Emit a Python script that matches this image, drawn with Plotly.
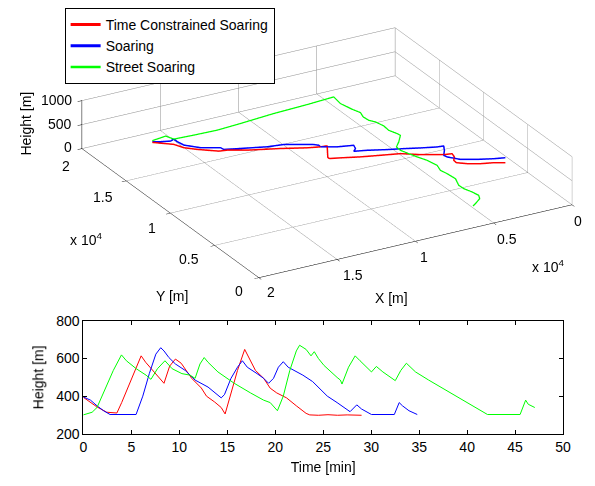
import plotly.graph_objects as go

# ---------------- 2D height vs time ----------------
t_red = [0, 0.5, 1.4, 2.45, 3.0, 3.5, 4.0, 5.0, 6.03, 6.5, 7.5, 8.41, 9.0, 9.6, 10.2,
         11.3, 12.3, 12.84, 13.69, 14.37, 14.78, 15.4, 16.07, 16.82, 17.43, 17.94,
         18.8, 19.48, 20.16, 21.18, 22.2, 23.22, 23.6, 24.5, 25.5, 26.5, 27.5, 29.0]
h_red = [395, 378, 345, 316, 312, 312, 367, 490, 614, 580, 520, 469, 560, 597, 575,
         495, 444, 401, 370, 341, 307, 418, 537, 648, 588, 537,
         495, 443, 418, 392, 350, 310, 302, 300, 303, 300, 302, 300]

t_blue = [0, 0.75, 1.43, 2.11, 2.79, 5.5, 6.2, 6.88, 7.56, 8.07, 8.41, 8.92, 9.6, 10.62,
          11.65, 13.0, 14.37, 14.71, 15.39, 16.07, 16.58, 17.09, 18.11, 18.8, 19.31,
          19.82, 20.33, 20.84, 21.35, 22.88, 23.9, 24.92, 25.43, 26.45, 27.8, 28.5,
          29.0, 30.03, 32.41, 32.92, 33.26, 33.94, 34.8]
h_blue = [397, 380, 350, 324, 304, 304, 401, 520, 623, 657, 640, 605, 571, 537,
          486, 449, 392, 409, 495, 554, 588, 554, 520, 495, 469,
          495, 554, 583, 554, 512, 478, 426, 401, 367, 319, 355,
          333, 304, 304, 367, 350, 324, 304]

t_green = [0, 0.92, 1.43, 2.28, 3.13, 3.98, 4.49, 5.52, 6.54, 7.05, 7.73, 8.51, 9.26,
           10.28, 11.13, 11.65, 12.16, 12.6, 13.0, 14.03, 15.73, 17.43, 18.79, 19.48,
           20.23, 20.84, 21.52, 22.2, 22.54, 23.22, 23.73, 24.07, 24.5, 25.09, 25.77,
           26.45, 26.79, 26.96, 27.64, 28.33, 28.84, 30.03, 30.54, 31.22, 32.51, 33.09,
           33.67, 34.62, 35.99, 38.03, 40.07, 42.12, 45.52, 46.1, 46.37, 47.05]
h_green = [302, 316, 341, 435, 537, 619, 588, 546, 512, 490, 546, 588, 546,
           520, 512, 495, 571, 605, 580, 529, 469, 418, 380, 367,
           324, 401, 537, 640, 670, 648, 614, 636, 600, 563, 529,
           500, 486, 465, 554, 614, 588, 529, 558, 529, 483, 537,
           575, 529, 486, 426, 367, 304, 304, 380, 358, 341]

# ---------------- 3D ground tracks ----------------
x3_red = [17453, 16542, 16278, 15743, 14812, 14340, 13374, 11653, 10316, 9608, 9218,
          9964, 9948, 9370, 8338, 7266, 6187, 5287, 4161, 3689, 3797, 4056, 4078,
          3628, 2985, 2277, 1711]
y3_red = [16552, 15725, 15063, 14496, 13703, 13590, 13041, 12326, 11675, 11428, 11361,
          9972, 9807, 9588, 9156, 8795, 8445, 7779, 7140, 7026, 6576, 6196, 5852,
          5441, 5076, 4828, 4507]
z3_red = [400, 400, 400, 400, 400, 400, 400, 400, 400, 400, 400,
          400, 400, 400, 400, 400, 400, 400, 400, 400, 400, 400, 400,
          400, 400, 400, 400]

x3_blue = [17406, 17005, 16483, 16191, 16198, 16106, 15471, 14505, 14458, 13585, 12183,
           11228, 9778, 9584, 9608, 8801, 7893, 8030, 8290, 7577, 6564, 5696, 4843,
           3970, 3585, 3842, 4208, 4150, 3666, 2859, 2011, 1379]
y3_blue = [16635, 16407, 16203, 16347, 15949, 15369, 14604, 14055, 13766, 13424, 12891,
           12706, 11882, 11663, 11428, 10970, 10702, 10267, 9997, 9747, 9280, 8942, 8565,
           8225, 8161, 7625, 7058, 6776, 6129, 5671, 5297, 5094]
z3_blue = [400, 400, 400, 400, 400, 400, 400, 400, 400, 400, 400,
           400, 400, 400, 400, 400, 400, 400, 400, 400, 400, 400, 400,
           400, 400, 400, 400, 400, 400, 400, 400, 400]

x3_green = [17499, 16552, 16350, 15119, 13657, 12086, 9815, 7605, 5809, 5930, 5742,
            5560, 5715, 5670, 5453, 5317, 5367, 5179, 5133, 5652, 6095, 6127, 5945,
            5758, 5500, 5349, 5520, 5416, 5346, 5630, 5608, 5421, 5327, 5498, 6038, 6301]
y3_green = [16470, 16645, 16065, 15986, 15930, 16077, 16337, 16476, 16650, 15679, 14689,
            14074, 13495, 12942, 12570, 11874, 11219, 10602, 10312, 9584, 9060, 8551, 7936,
            7318, 6644, 5783, 5106, 4534, 3719, 2843, 2319, 1700, 1120, 705, 236, 30]
z3_green = [450, 450, 450, 450, 450, 450, 450, 450, 450, 450, 450,
            450, 450, 450, 450, 450, 450, 450, 450, 450, 450, 450, 450,
            450, 450, 450, 450, 450, 450, 450, 450, 450, 450, 450, 450, 450]

names = ["Time Constrained Soaring", "Soaring", "Street Soaring"]
colors = ["#ff0000", "#0000ff", "#00ff00"]

xy_ticks = [0, 5000, 10000, 15000, 20000]
xy_ticktext = ["0", "0.5", "1", "1.5", "2"]
z_ticks = [0, 500, 1000]
z_ticktext = ["0", "500", "1000"]

FONT = "Liberation Sans, Arial, sans-serif"
FS = 14
W, H = 595, 486

fig = go.Figure()

tracks = [(x3_red, y3_red, z3_red, 3), (x3_blue, y3_blue, z3_blue, 3), (x3_green, y3_green, z3_green, 2.5)]
for i, (xs, ys, zs, w) in enumerate(tracks):
    fig.add_trace(go.Scatter3d(x=xs, y=ys, z=zs, mode="lines", name=names[i],
                               line=dict(color=colors[i], width=w),
                               legendgroup=str(i), showlegend=True, hoverinfo="skip"))

series = [(t_red, h_red), (t_blue, h_blue), (t_green, h_green)]
for i, (ts, hs) in enumerate(series):
    fig.add_trace(go.Scatter(x=ts, y=hs, mode="lines", line=dict(color=colors[i], width=1),
                             showlegend=False, xaxis="x", yaxis="y", hoverinfo="skip"))

axis3 = dict(showgrid=True, gridcolor="#8c8c8c", gridwidth=1, showline=True, linecolor="black",
             linewidth=1, ticks="outside", ticklen=5, tickcolor="black", showbackground=False,
             zeroline=False, showspikes=False, title=dict(text=""), showticklabels=False)

# view direction (orthographic), x axis reversed as in the original figure
d = (-0.448, -0.793, 0.412)
ctr = (-0.190, 0.089, -0.035)
r = 1.5
k = 2.39

# ---- screen layout of the 3-D box (pixels) used to place its tick labels ----
A = (81.7, 150.0)      # x=2e4, y=2e4, z=0
B = (258.3, 279.3)     # x=2e4, y=0,   z=0
C = (571.7, 206.0)     # x=0,   y=0,   z=0
ZPX = 48.0             # pixels for the full z range


def paper(px, py):
    return px / W, 1 - py / H


ann = []
for v, s in zip(xy_ticks, xy_ticktext):
    f = v / 20000.0
    # y tick labels along A-B edge (y=2e4 at A)
    tx = B[0] + f * (A[0] - B[0])
    ty = B[1] + f * (A[1] - B[1])
    px, py = paper(tx - 12.7, ty + 13)
    ann.append(dict(text=s, x=px, y=py, xanchor="right", yanchor="middle"))
    # x tick labels along B-C edge (x=2e4 at B)
    tx = C[0] + f * (B[0] - C[0])
    ty = C[1] + f * (B[1] - C[1])
    px, py = paper(tx + 7.7, ty + 14.7)
    ann.append(dict(text=s, x=px, y=py, xanchor="left", yanchor="middle"))
for v, s in zip(z_ticks, z_ticktext):
    px, py = paper(A[0] - 10, A[1] - ZPX * v / 1000.0 - 6.5)
    ann.append(dict(text=s, x=px, y=py, xanchor="right", yanchor="middle"))

for txt, (px, py), ang in [("Height [m]", (22, 120), -90), ("Y [m]", (171, 298), 0),
                           ("X [m]", (395, 300), 0), ("x 10<sup>4</sup>", (84, 239), 0),
                           ("x 10<sup>4</sup>", (555, 267), 0)]:
    qx, qy = paper(px, py)
    ann.append(dict(text=txt, x=qx, y=qy, textangle=ang, xanchor="center", yanchor="middle"))

for a in ann:
    a.update(xref="paper", yref="paper", showarrow=False, font=dict(family=FONT, size=FS, color="black"))

fig.update_layout(
    width=W, height=H, margin=dict(l=0, r=0, t=0, b=0),
    paper_bgcolor="white", plot_bgcolor="white",
    font=dict(family=FONT, size=FS, color="black"),
    scene=dict(
        domain=dict(x=[0.0, 1.0], y=[0.36, 1.0]),
        xaxis=dict(axis3, range=[20000, 0], tickvals=xy_ticks),
        yaxis=dict(axis3, range=[0, 20000], tickvals=xy_ticks),
        zaxis=dict(axis3, range=[0, 1000], tickvals=z_ticks),
        aspectmode="manual", aspectratio=dict(x=k, y=k, z=0.1466 * k),
        camera=dict(eye=dict(x=ctr[0] + d[0] * r, y=ctr[1] + d[1] * r, z=ctr[2] + d[2] * r),
                    up=dict(x=0, y=0, z=1), center=dict(x=ctr[0], y=ctr[1], z=ctr[2]),
                    projection=dict(type="orthographic")),
    ),
    xaxis=dict(domain=[0.136, 0.959], range=[0, 50], tickvals=list(range(0, 51, 5)),
               showline=True, linecolor="black", linewidth=1, mirror="ticks", ticks="inside",
               ticklen=4, tickcolor="black", showgrid=False, zeroline=False,
               tickfont=dict(size=FS),
               title=dict(text="Time [min]", standoff=8, font=dict(size=FS)), anchor="y"),
    yaxis=dict(domain=[0.0932, 0.3348], range=[200, 800], tickvals=[200, 400, 600, 800],
               showline=True, linecolor="black", linewidth=1, mirror="ticks", ticks="inside",
               ticklen=4, tickcolor="black", showgrid=False, zeroline=False,
               tickfont=dict(size=FS),
               title=dict(text="Height [m]", standoff=8, font=dict(size=FS)), anchor="x"),
    legend=dict(x=0.104, y=1.0, xanchor="left", yanchor="top", bgcolor="white",
                bordercolor="black", borderwidth=1, tracegroupgap=0,
                font=dict(family=FONT, size=FS, color="black")),
    annotations=ann,
)

fig.write_html("out.html", config=dict(displayModeBar=False))
